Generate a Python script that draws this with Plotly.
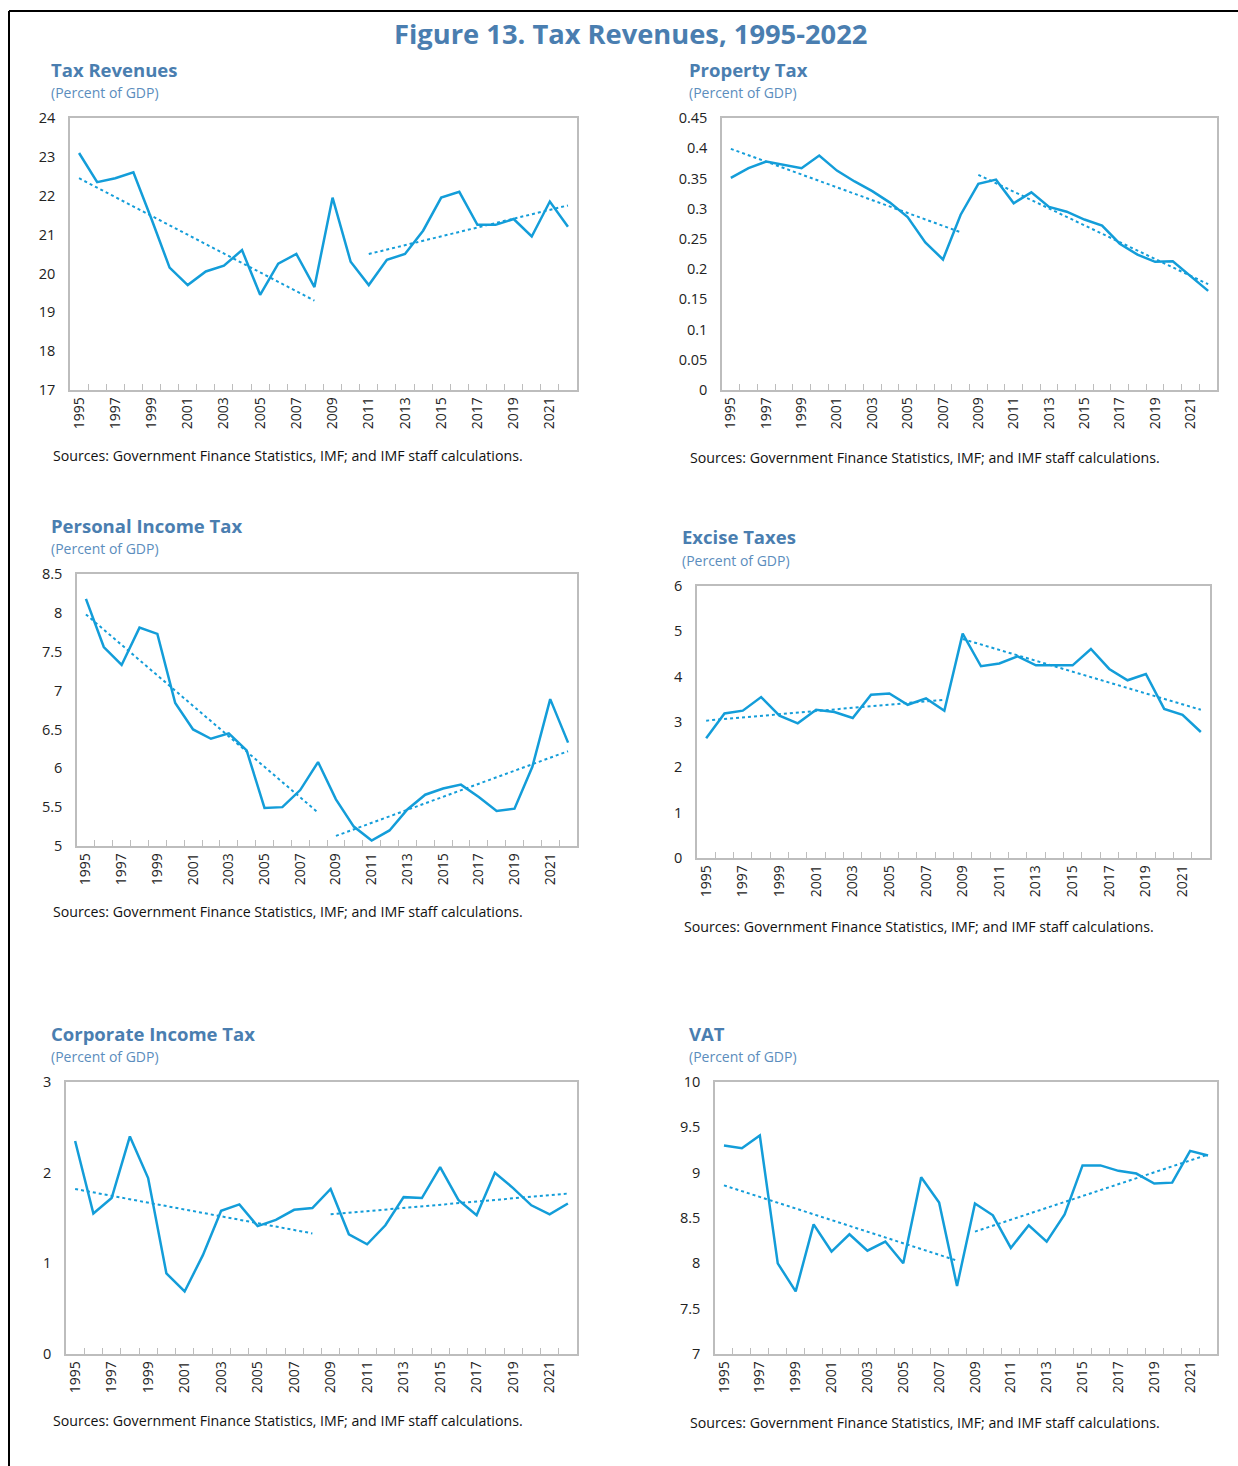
import plotly.graph_objects as go

# ---------------- data ----------------
years = list(range(1995, 2023))

tax_revenues = [23.1, 22.35, 22.45, 22.6, 21.4, 20.15, 19.7, 20.05, 20.2, 20.6,
                19.45, 20.25, 20.5, 19.65, 21.95, 20.3, 19.7, 20.35, 20.5, 21.1,
                21.95, 22.1, 21.25, 21.25, 21.4, 20.95, 21.85, 21.2]
tax_revenues_trend_a = ([1995, 2008], [22.45, 19.3])
tax_revenues_trend_b = ([2011, 2022], [20.5, 21.75])

property_tax = [0.351, 0.367, 0.378, 0.373, 0.367, 0.388, 0.363, 0.345, 0.329, 0.310,
                0.286, 0.244, 0.216, 0.290, 0.341, 0.348, 0.309, 0.327, 0.303, 0.295,
                0.282, 0.272, 0.242, 0.224, 0.212, 0.213, 0.188, 0.164]
property_tax_trend_a = ([1995, 2008], [0.399, 0.261])
property_tax_trend_b = ([2009, 2022], [0.356, 0.175])

personal_income_tax = [8.18, 7.56, 7.33, 7.81, 7.73, 6.84, 6.50, 6.38, 6.45, 6.23,
                       5.49, 5.50, 5.72, 6.08, 5.60, 5.25, 5.07, 5.20, 5.47, 5.66,
                       5.74, 5.79, 5.63, 5.45, 5.48, 6.02, 6.89, 6.33]
personal_income_tax_trend_a = ([1995, 2008], [7.98, 5.43])
personal_income_tax_trend_b = ([2009, 2022], [5.13, 6.22])

excise_taxes = [2.64, 3.19, 3.25, 3.55, 3.14, 2.97, 3.27, 3.22, 3.09, 3.60,
                3.63, 3.38, 3.52, 3.25, 4.95, 4.23, 4.29, 4.45, 4.25, 4.25,
                4.25, 4.61, 4.17, 3.92, 4.06, 3.29, 3.16, 2.78]
excise_taxes_trend_a = ([1995, 2008], [3.03, 3.49])
excise_taxes_trend_b = ([2009, 2022], [4.83, 3.27])

corporate_income_tax = [2.35, 1.55, 1.72, 2.40, 1.94, 0.89, 0.69, 1.09, 1.58, 1.65,
                        1.41, 1.48, 1.59, 1.61, 1.82, 1.32, 1.21, 1.42, 1.73, 1.72,
                        2.06, 1.70, 1.53, 2.00, 1.83, 1.64, 1.54, 1.66]
corporate_income_tax_trend_a = ([1995, 2008], [1.82, 1.33])
corporate_income_tax_trend_b = ([2009, 2022], [1.54, 1.77])

vat = [9.30, 9.27, 9.41, 8.00, 7.69, 8.43, 8.13, 8.32, 8.14, 8.24,
       8.00, 8.95, 8.67, 7.75, 8.66, 8.53, 8.17, 8.42, 8.24, 8.54,
       9.08, 9.08, 9.02, 8.99, 8.88, 8.89, 9.24, 9.19]
vat_trend_a = ([1995, 2008], [8.86, 8.03])
vat_trend_b = ([2009, 2022], [8.35, 9.20])

label_years = years[::2]

# ---------------- page geometry (pixel positions -> paper fractions) ----------------
W, H = 1238, 1466


def px(x):
    return x / W


def py(y):
    return 1 - y / H


LINE = "#139dd9"
TITLE_BLUE = "#4a7eb0"
SUB_BLUE = "#5b8dbd"
FONT = "Open Sans"
SOURCE = "Sources: Government Finance Statistics, IMF; and IMF staff calculations."

# panel: (title, series, trends, y-range, y-dtick,
#         box (left, right, top, bottom), title (x, y), source (x, y))
panels = [
    ("Tax Revenues", tax_revenues, (tax_revenues_trend_a, tax_revenues_trend_b),
     [17, 24], 1, (70, 577, 118, 390), (49, 69), (51, 456)),
    ("Property Tax", property_tax, (property_tax_trend_a, property_tax_trend_b),
     [0, 0.45], 0.05, (722, 1217, 118, 390), (687, 69), (688, 458)),
    ("Personal Income Tax", personal_income_tax,
     (personal_income_tax_trend_a, personal_income_tax_trend_b),
     [5, 8.5], 0.5, (77, 577, 574, 846), (49, 525), (51, 912)),
    ("Excise Taxes", excise_taxes, (excise_taxes_trend_a, excise_taxes_trend_b),
     [0, 6], 1, (697, 1210, 586, 858), (680, 537), (682, 926)),
    ("Corporate Income Tax", corporate_income_tax,
     (corporate_income_tax_trend_a, corporate_income_tax_trend_b),
     [0, 3], 1, (66, 577, 1082, 1354), (49, 1033), (51, 1420)),
    ("VAT", vat, (vat_trend_a, vat_trend_b),
     [7, 10], 0.5, (715, 1217, 1082, 1354), (687, 1033), (688, 1422)),
]

fig = go.Figure()
annotations = []
layout = {}

for i, (title, series, trends, yr, dt, box, tpos, spos) in enumerate(panels):
    n = "" if i == 0 else str(i + 1)
    xa, ya = "x" + n, "y" + n
    left, right, top, bottom = box

    fig.add_trace(go.Scatter(x=years, y=series, mode="lines",
                             line=dict(color=LINE, width=2.5),
                             xaxis=xa, yaxis=ya, showlegend=False, hoverinfo="x+y"))
    for tx, ty in trends:
        fig.add_trace(go.Scatter(x=tx, y=ty, mode="lines",
                                 line=dict(color=LINE, width=2, dash="dot"),
                                 xaxis=xa, yaxis=ya, showlegend=False, hoverinfo="skip"))

    layout["xaxis" + n] = dict(
        domain=[px(left), px(right)], anchor=ya, automargin=False,
        range=[years[0] - 0.5, years[-1] + 0.5],
        tickmode="array", tickvals=label_years, ticktext=[str(y) for y in label_years],
        tickangle=-90, ticks="", showgrid=False, zeroline=False,
        showline=True, linecolor="#bdbdbd", linewidth=1.5, mirror=True,
        tickfont=dict(family=FONT, size=14, color="#222"),
        minor=dict(tickmode="array", tickvals=[y + 0.5 for y in years[:-1]],
                   ticks="inside", ticklen=6, tickwidth=1, tickcolor="#bdbdbd",
                   showgrid=False),
        fixedrange=True,
    )
    layout["yaxis" + n] = dict(
        domain=[py(bottom), py(top)], anchor=xa, automargin=False,
        range=yr, dtick=dt, tick0=yr[0], ticks="", showgrid=False, zeroline=False,
        showline=True, linecolor="#bdbdbd", linewidth=1.5, mirror=True,
        tickfont=dict(family=FONT, size=14.5, color="#222"), ticklabelstandoff=10,
        fixedrange=True,
    )

    annotations.append(dict(text="<b>" + title + "</b>", x=px(tpos[0]), y=py(tpos[1]),
                            xref="paper", yref="paper", xanchor="left", yanchor="middle",
                            showarrow=False, font=dict(family=FONT, size=18.5, color=TITLE_BLUE)))
    annotations.append(dict(text="(Percent of GDP)", x=px(tpos[0]), y=py(tpos[1] + 23),
                            xref="paper", yref="paper", xanchor="left", yanchor="middle",
                            showarrow=False, font=dict(family=FONT, size=14, color=SUB_BLUE)))
    annotations.append(dict(text=SOURCE, x=px(spos[0]), y=py(spos[1]),
                            xref="paper", yref="paper", xanchor="left", yanchor="middle",
                            showarrow=False, font=dict(family=FONT, size=14.2, color="#111")))

annotations.append(dict(text="<b>Figure 13. Tax Revenues, 1995-2022</b>",
                        x=px(630), y=py(33), xref="paper", yref="paper",
                        xanchor="center", yanchor="middle", showarrow=False,
                        font=dict(family=FONT, size=27.3, color=TITLE_BLUE)))

# outer frame (top and left edges visible on the page)
shapes = [
    dict(type="line", xref="paper", yref="paper", x0=px(9), x1=1.02, y0=py(11), y1=py(11),
         line=dict(color="black", width=2)),
    dict(type="line", xref="paper", yref="paper", x0=px(9), x1=px(9), y0=py(11), y1=-0.02,
         line=dict(color="black", width=2)),
]

fig.update_layout(
    width=W, height=H, margin=dict(l=0, r=0, t=0, b=0, autoexpand=False),
    paper_bgcolor="white", plot_bgcolor="white",
    annotations=annotations, shapes=shapes, **layout,
)

fig.write_html("out.html", config={"displayModeBar": False})
